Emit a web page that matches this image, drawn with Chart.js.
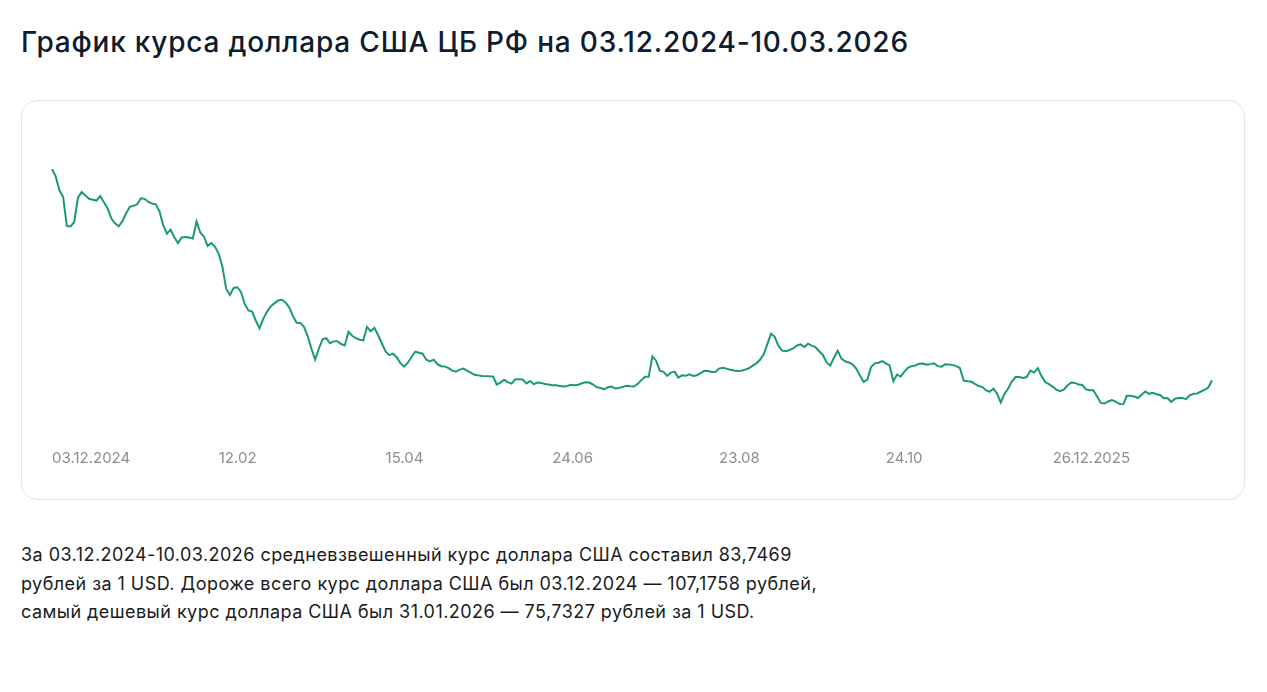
<!DOCTYPE html>
<html lang="ru">
<head>
    <meta charset="UTF-8">
    <title>График курса доллара США ЦБ РФ</title>
    <script src="https://cdn.jsdelivr.net/npm/chart.js"></script>
    <style>
        body {
            margin: 0;
            padding: 0;
            background: #ffffff;
            font-family: Inter, "Noto Sans", sans-serif;
        }
        .page {
            position: relative;
            width: 1267px;
            height: 692px;
        }
        h1 {
            position: absolute;
            left: 21px;
            top: 25px;
            margin: 0;
            font-size: 28px;
            font-weight: 500;
            color: #0e1c2f;
            letter-spacing: 0.8px;
        }
        .card {
            position: absolute;
            left: 21px;
            top: 100px;
            width: 1222px;
            height: 398px;
            border: 1px solid #e3e5e8;
            border-radius: 16px;
        }
        .card canvas {
            display: block;
        }
        .summary {
            position: absolute;
            left: 21px;
            top: 541px;
            margin: 0;
            font-size: 18px;
            line-height: 28.5px;
            letter-spacing: 0.45px;
            color: #1b1b1b;
        }
    </style>
</head>
<body>
<div class="page">
    <h1>График курса доллара США ЦБ РФ на 03.12.2024-10.03.2026</h1>
    <div class="card">
        <canvas id="usdChart" width="1222" height="398"></canvas>
    </div>
    <p class="summary">
        За 03.12.2024-10.03.2026 средневзвешенный курс доллара США составил 83,7469<br>
        рублей за 1 USD. Дороже всего курс доллара США был 03.12.2024 — 107,1758 рублей,<br>
        самый дешевый курс доллара США был 31.01.2026 — 75,7327 рублей за 1 USD.
    </p>
</div>
<script>
    // подписи оси X (каждая 45-я точка)
    const tickLabels = ['03.12.2024', '12.02', '15.04', '24.06', '23.08', '24.10', '26.12.2025'];
    const tickStep = 45;

    // курс USD, руб. (по точкам графика)
    const usdRates = [
        107.1758, 106.19, 104.33, 103.47, 99.59, 99.51, 100.12, 103.36, 104.10, 103.66,
        103.20, 103.09, 102.97, 103.57, 102.74, 101.94, 100.61, 99.95, 99.55, 100.22,
        101.28, 102.14, 102.27, 102.47, 103.27, 103.20, 102.78, 102.58, 102.47, 101.54,
        99.68, 98.56, 99.09, 98.09, 97.30, 98.05, 98.13, 98.05, 97.92, 100.18,
        98.72, 98.16, 96.94, 97.30, 96.81, 95.84, 94.11, 91.19, 90.40, 91.32,
        91.42, 90.79, 89.20, 88.34, 88.18, 86.95, 85.95, 87.21, 88.14, 88.87,
        89.27, 89.67, 89.76, 89.40, 88.74, 87.61, 86.68, 86.67, 86.15, 84.89,
        83.23, 81.77, 83.23, 84.49, 84.65, 83.96, 84.21, 84.24, 83.86, 83.67,
        85.49, 84.96, 84.63, 84.43, 84.34, 86.15, 85.55, 86.02, 85.02, 83.96,
        82.87, 82.37, 82.57, 82.10, 81.31, 80.84, 81.37, 82.13, 82.83, 82.70,
        82.57, 81.77, 81.55, 81.77, 81.18, 80.90, 80.87, 80.64, 80.31, 80.17,
        80.45, 80.58, 80.31, 80.05, 79.76, 79.68, 79.61, 79.58, 79.55, 79.54,
        78.46, 78.72, 79.09, 78.79, 78.59, 79.16, 79.16, 79.12, 78.59, 78.92,
        78.51, 78.72, 78.68, 78.54, 78.46, 78.36, 78.35, 78.27, 78.19, 78.27,
        78.42, 78.38, 78.43, 78.63, 78.76, 78.73, 78.46, 78.11, 77.99, 77.83,
        78.10, 78.19, 77.92, 77.99, 78.15, 78.28, 78.22, 78.19, 78.52, 79.05,
        79.48, 79.48, 82.21, 81.64, 80.31, 80.15, 79.61, 80.05, 80.18, 79.38,
        79.69, 79.62, 79.82, 79.61, 79.69, 79.98, 80.29, 80.26, 80.12, 80.14,
        80.58, 80.68, 80.58, 80.43, 80.34, 80.27, 80.31, 80.44, 80.63, 80.94,
        81.28, 81.73, 82.44, 83.80, 85.22, 84.82, 83.63, 82.97, 82.91, 83.06,
        83.26, 83.67, 83.80, 83.46, 83.90, 83.65, 83.46, 82.90, 82.40, 81.41,
        80.97, 82.04, 82.97, 81.91, 81.56, 81.40, 81.14, 80.58, 79.65, 78.81,
        79.12, 80.78, 81.28, 81.37, 81.59, 81.28, 81.01, 78.89, 79.78, 79.52,
        80.18, 80.71, 80.91, 81.00, 81.24, 81.27, 81.10, 81.18, 81.30, 80.91,
        80.84, 81.15, 81.14, 81.08, 80.91, 80.64, 78.99, 78.89, 78.85, 78.56,
        78.27, 78.15, 77.70, 77.50, 77.92, 77.26, 76.07, 77.20, 77.93, 78.85,
        79.45, 79.45, 79.34, 79.45, 80.31, 80.05, 80.64, 79.58, 78.79, 78.52,
        78.19, 77.79, 77.58, 77.79, 78.32, 78.72, 78.68, 78.46, 78.39, 77.81,
        77.70, 77.70, 76.86, 76.01, 75.93, 76.20, 76.40, 76.17, 75.89, 75.7327,
        76.96, 76.96, 76.86, 76.66, 77.09, 77.53, 77.22, 77.36, 77.17, 77.06,
        76.63, 76.67, 76.16, 76.56, 76.68, 76.68, 76.52, 77.03, 77.23, 77.25,
        77.53, 77.75, 78.06, 79.02
    ];

    const labels = usdRates.map((v, i) => i % tickStep === 0 ? tickLabels[i / tickStep] : '');

    const ctx = document.getElementById('usdChart').getContext('2d');
    new Chart(ctx, {
        type: 'line',
        data: {
            labels: labels,
            datasets: [{
                data: usdRates,
                borderColor: '#1a9b6d',
                borderWidth: 2,
                pointRadius: 0,
                fill: false,
                tension: 0
            }]
        },
        options: {
            responsive: false,
            animation: false,
            layout: {
                padding: { left: 30, right: 32, top: 68, bottom: 32 }
            },
            plugins: {
                legend: { display: false },
                tooltip: { enabled: false }
            },
            scales: {
                x: {
                    // отступ подписей делаем через длину (невидимых) засечек
                    grid: { display: false, drawTicks: true, tickLength: 44 },
                    border: { display: false },
                    ticks: {
                        autoSkip: false,
                        maxRotation: 0,
                        align: 'start',
                        padding: 0,
                        color: '#8a8d91',
                        font: { family: 'Inter', size: 15 }
                    }
                },
                y: {
                    display: false,
                    min: Math.min(...usdRates),
                    max: Math.max(...usdRates)
                }
            }
        }
    });
</script>
</body>
</html>
